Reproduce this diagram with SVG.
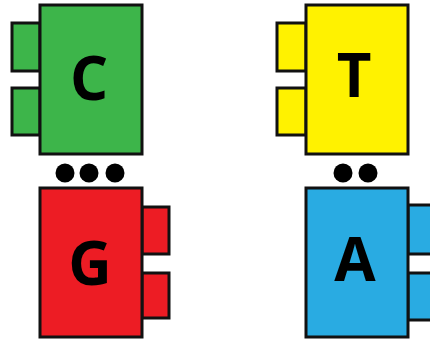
<svg xmlns="http://www.w3.org/2000/svg" width="430" height="340" viewBox="0 0 430 340">
<style>
.b{stroke:#111;stroke-width:3}
.g{fill:#3DB54A}.y{fill:#FFF200}.r{fill:#ED1C24}.u{fill:#29ABE2}
.l{font-family:"Open Sans","Liberation Sans",sans-serif;font-weight:700;font-size:60px;fill:#000;text-anchor:middle}
.d{fill:#000}
</style>
<rect width="430" height="340" fill="#fff"/>
<g id="nodeC">
<rect class="b g" x="12" y="23" width="28" height="48"/>
<rect class="b g" x="12" y="88" width="28" height="47"/>
<rect class="b g" x="40" y="5" width="102" height="149"/>
<text class="l" x="89" y="100">C</text>
</g>
<g id="nodeT">
<rect class="b y" x="277" y="23" width="29" height="48"/>
<rect class="b y" x="277" y="88" width="29" height="47"/>
<rect class="b y" x="306" y="5" width="102" height="149"/>
<text class="l" x="354" y="97">T</text>
</g>
<g id="nodeG">
<rect class="b r" x="142" y="207" width="27" height="47"/>
<rect class="b r" x="142" y="273" width="27" height="45"/>
<rect class="b r" x="40" y="188" width="102" height="149"/>
<text class="l" x="90" y="285">G</text>
</g>
<g id="nodeA">
<rect class="b u" x="408" y="205" width="30" height="49"/>
<rect class="b u" x="408" y="273" width="30" height="47"/>
<rect class="b u" x="306" y="188" width="102" height="149"/>
<text class="l" x="355" y="281">A</text>
</g>
<g id="connectors">
<circle class="d" cx="65" cy="173" r="9.5"/>
<circle class="d" cx="89" cy="173" r="9.5"/>
<circle class="d" cx="115" cy="173" r="9.5"/>
<circle class="d" cx="343" cy="173" r="9.5"/>
<circle class="d" cx="368" cy="173" r="9.5"/>
</g>
</svg>
